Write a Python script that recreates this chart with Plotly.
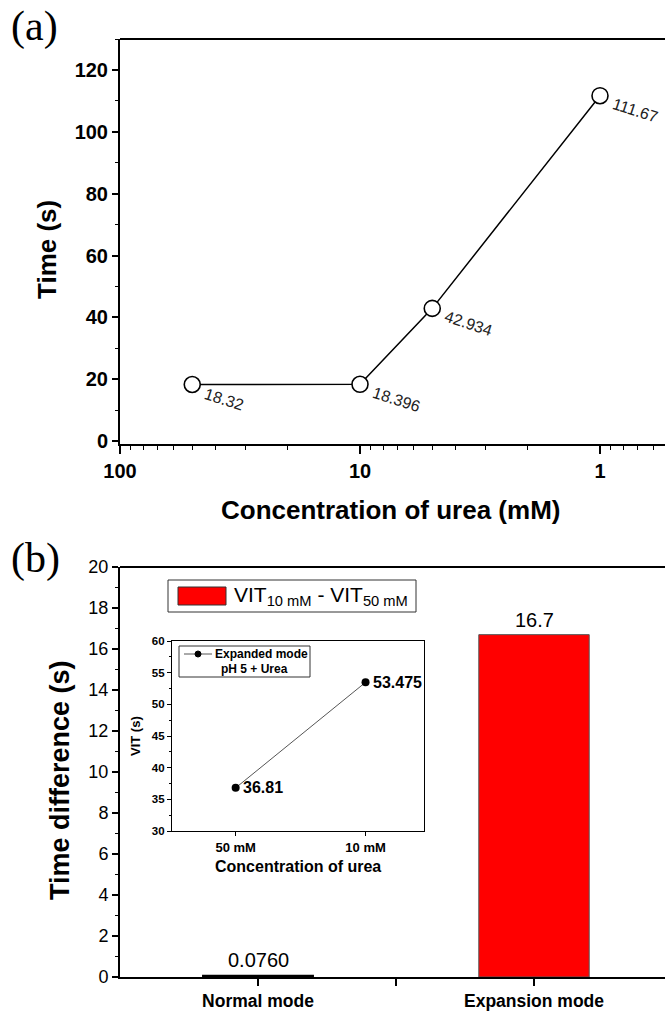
import math
import plotly.graph_objects as go

# ---------------- data ----------------
conc_mM = [50, 10, 5, 1]
time_s = [18.32, 18.396, 42.934, 111.67]
time_labels = ["18.32", "18.396", "42.934", "111.67"]

modes = ["Normal mode", "Expansion mode"]
time_diff = [0.0760, 16.7]
time_diff_labels = ["0.0760", "16.7"]

inset_cats = ["50 mM", "10 mM"]
inset_vit = [36.81, 53.475]
inset_labels = ["36.81", "53.475"]

W, H = 665, 1011
SANS = "Liberation Sans, Arial, sans-serif"
SERIF = "Liberation Serif, Times New Roman, serif"


def px(x):
    return x / W


def py(y):
    return 1 - y / H


fig = go.Figure()

# ---------- panel (a) ----------
fig.add_trace(go.Scatter(
    x=conc_mM, y=time_s, mode="lines+markers", xaxis="x", yaxis="y",
    line=dict(color="black", width=1.5),
    marker=dict(symbol="circle", size=16, color="white",
                line=dict(color="black", width=1.6)),
    showlegend=False, cliponaxis=False))

for xv, yv, t in zip(conc_mM, time_s, time_labels):
    fig.add_annotation(x=math.log10(xv), y=yv, xref="x", yref="y",
                       text=t, showarrow=False, xanchor="left", yanchor="middle",
                       xshift=8, yshift=-15, textangle=18,
                       font=dict(family=SANS, size=16, color="#222"))

# ---------- panel (b) ----------
fig.add_trace(go.Bar(
    x=[0, 1], y=time_diff, xaxis="x2", yaxis="y2", width=0.4,
    marker=dict(color="#ff0000", line=dict(color=["black", "#555"], width=[1.5, 1])),
    showlegend=False))
for i, (v, t) in enumerate(zip(time_diff, time_diff_labels)):
    fig.add_annotation(x=i, y=v, xref="x2", yref="y2", text=t, showarrow=False,
                       yanchor="bottom", yshift=2,
                       font=dict(family=SANS, size=20, color="black"))

# ---------- inset ----------
fig.add_trace(go.Scatter(
    x=[0, 1], y=inset_vit, xaxis="x3", yaxis="y3", mode="lines+markers",
    line=dict(color="#555", width=1),
    marker=dict(color="black", size=8),
    showlegend=False, cliponaxis=False))
for i, (v, t) in enumerate(zip(inset_vit, inset_labels)):
    fig.add_annotation(x=i, y=v, xref="x3", yref="y3", text="<b>" + t + "</b>",
                       showarrow=False, xanchor="left", yanchor="middle", xshift=5,
                       font=dict(family=SANS, size=16, color="black"))

axis_common = dict(showline=True, linecolor="black", zeroline=False, showgrid=False,
                   ticks="outside", tickcolor="black", automargin=False)

# panel (a) axes
xa_left = px(120)
fig.update_layout(
    xaxis=dict(**axis_common, type="log", domain=[xa_left, 1.0],
               range=[2.0, 2.0 - 545 / 240], anchor="y",
               linewidth=2, tickwidth=1.5, ticklen=8,
               tickvals=[100, 10, 1], ticktext=["100", "10", "1"],
               tickfont=dict(family=SANS, size=20, color="black", weight="bold"),
               minor=dict(tickvals=[90, 80, 70, 60, 50, 40, 30, 20,
                                    9, 8, 7, 6, 5, 4, 3, 2,
                                    0.9, 0.8, 0.7, 0.6],
                          ticks="outside", ticklen=4, tickwidth=1.2, tickcolor="black",
                          showgrid=False)),
    yaxis=dict(**axis_common, domain=[py(444), py(39)], range=[-0.9, 130],
               anchor="x", linewidth=2, tickwidth=1.5, ticklen=6,
               tickvals=[0, 20, 40, 60, 80, 100, 120],
               tickfont=dict(family=SANS, size=20, color="black", weight="bold"),
               minor=dict(dtick=10, ticks="outside", ticklen=3, tickwidth=1.2,
                          tickcolor="black", showgrid=False)),
)

# panel (b) axes
fig.update_layout(
    xaxis2=dict(**axis_common, domain=[xa_left, 1.0], range=[-0.5, -0.5 + 545 / 276],
                anchor="y2", linewidth=2, tickwidth=1.5, ticklen=7,
                tickvals=[0, 0.5, 1], ticktext=[modes[0], " ", modes[1]],
                tickfont=dict(family=SANS, size=17.5, color="black", weight="bold")),
    yaxis2=dict(**axis_common, domain=[py(977), py(567)], range=[0, 20], anchor="x2",
                linewidth=2, tickwidth=1.5, ticklen=6, dtick=2,
                tickfont=dict(family=SANS, size=18, color="black"),
                minor=dict(dtick=1, ticks="outside", ticklen=3, tickwidth=1.2,
                           tickcolor="black", showgrid=False)),
    xaxis3=dict(**axis_common, domain=[px(172), px(424)], range=[-0.49, 1.45],
                anchor="y3", mirror=True, linewidth=1.2, tickwidth=1, ticklen=4,
                tickvals=[0, 1], ticktext=inset_cats,
                tickfont=dict(family=SANS, size=13, color="black", weight="bold")),
    yaxis3=dict(**axis_common, domain=[py(831), py(641)], range=[30, 60], anchor="x3",
                mirror=True, linewidth=1.2, tickwidth=1, ticklen=4, dtick=5,
                tickfont=dict(family=SANS, size=11.5, color="black", weight="bold"),
                minor=dict(dtick=2.5, ticks="outside", ticklen=2, tickwidth=1,
                           tickcolor="black", showgrid=False)),
)

shapes = []
# top frame lines of main panels
shapes.append(dict(type="line", xref="paper", yref="paper", x0=xa_left, x1=1.0,
                   y0=py(39), y1=py(39), line=dict(color="black", width=2)))
shapes.append(dict(type="line", xref="paper", yref="paper", x0=xa_left, x1=1.0,
                   y0=py(567), y1=py(567), line=dict(color="black", width=2)))
# legend of panel (b)
shapes.append(dict(type="rect", xref="paper", yref="paper", x0=px(168), x1=px(416),
                   y0=py(612), y1=py(580), line=dict(color="#333", width=1),
                   fillcolor="white", layer="above"))
shapes.append(dict(type="rect", xref="paper", yref="paper", x0=px(178), x1=px(226),
                   y0=py(605), y1=py(587), line=dict(color="#333", width=1),
                   fillcolor="#ff0000", layer="above"))
# inset legend
shapes.append(dict(type="rect", xref="paper", yref="paper", x0=px(179), x1=px(310),
                   y0=py(677), y1=py(646), line=dict(color="#333", width=1),
                   fillcolor="white", layer="above"))
shapes.append(dict(type="line", xref="paper", yref="paper", x0=px(184), x1=px(212),
                   y0=py(654), y1=py(654), line=dict(color="#555", width=1),
                   layer="above"))
shapes.append(dict(type="circle", xref="paper", yref="paper", x0=px(195), x1=px(201),
                   y0=py(657), y1=py(651), line=dict(color="black", width=1),
                   fillcolor="black", layer="above"))
fig.update_layout(shapes=shapes)

annots = [
    dict(x=px(34), y=py(26), text="(a)", font=dict(family=SERIF, size=42, color="black")),
    dict(x=px(35), y=py(558), text="(b)", font=dict(family=SERIF, size=42, color="black")),
    dict(x=px(390), y=py(510), text="<b>Concentration of urea (mM)</b>",
         font=dict(family=SANS, size=26, color="black")),
    dict(x=px(47), y=py(250), text="<b>Time (s)</b>", textangle=-90,
         font=dict(family=SANS, size=26, color="black")),
    dict(x=px(60), y=py(780), text="<b>Time difference (s)</b>", textangle=-90,
         font=dict(family=SANS, size=27, color="black")),
    dict(x=px(135), y=py(736), text="<b>VIT (s)</b>", textangle=-90,
         font=dict(family=SANS, size=13, color="black")),
    dict(x=px(298), y=py(866), text="<b>Concentration of urea</b>",
         font=dict(family=SANS, size=16, color="black")),
    dict(x=px(232), y=py(596), xanchor="left",
         text="VIT<sub>10 mM</sub> - VIT<sub>50 mM</sub>",
         font=dict(family=SANS, size=21, color="black")),
    dict(x=px(213), y=py(654), xanchor="left", text="<b>Expanded mode</b>",
         font=dict(family=SANS, size=12, color="black")),
    dict(x=px(254), y=py(669), text="<b>pH 5 + Urea</b>",
         font=dict(family=SANS, size=12, color="black")),
]
for a in annots:
    a.setdefault("xanchor", "center")
    fig.add_annotation(xref="paper", yref="paper", showarrow=False, yanchor="middle", **a)

fig.update_layout(width=W, height=H, margin=dict(l=0, r=0, t=0, b=0),
                  paper_bgcolor="white", plot_bgcolor="white", showlegend=False)

fig.write_html("out.html")
